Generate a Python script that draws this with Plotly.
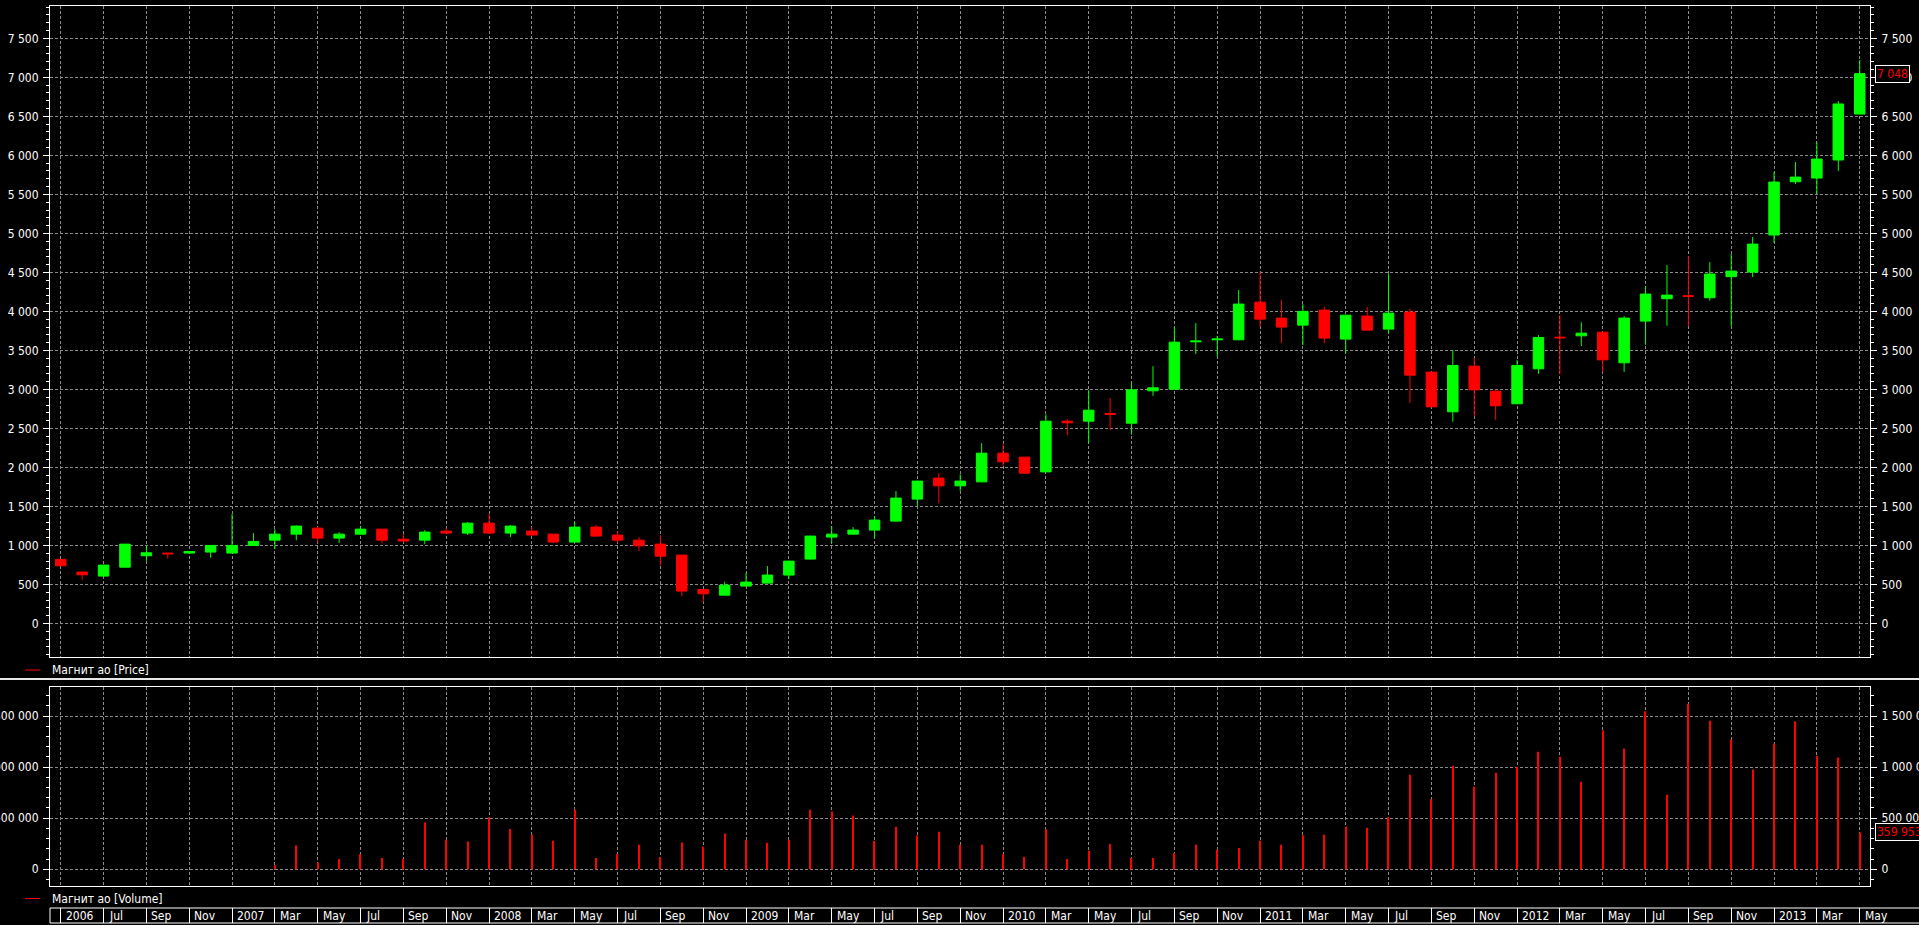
import plotly.graph_objects as go

# ---- data (monthly, May 2006 .. May 2013) ----
month_index = list(range(85))

open_ = [821, 658, 607, 722, 868, 902, 902, 915, 902, 1000,
         1068, 1145, 1222, 1094, 1145, 1209, 1081, 1068, 1184, 1158,
         1286, 1158, 1184, 1145, 1043, 1235, 1133, 1068, 1017, 876,
         436, 363, 479, 517, 620, 825, 1107, 1145, 1197, 1312,
         1594, 1863, 1764, 1815, 2183, 2132, 1943, 2593, 2593, 2690,
         2567, 2982, 3003, 3610, 3636, 3636, 4119, 3914, 3824, 4017,
         3645, 3940, 3773, 3991, 3222, 2713, 3298, 2977, 2816, 3264,
         3670, 3687, 3734, 3341, 3876, 4163, 4200, 4175, 4445, 4504,
         4979, 5662, 5709, 5941, 6530]
high = [825, 662, 750, 1020, 1000, 905, 926, 1002, 1402, 1158,
        1209, 1255, 1239, 1171, 1252, 1212, 1145, 1197, 1222, 1299,
        1402, 1261, 1235, 1148, 1299, 1261, 1184, 1107, 1133, 880,
        440, 534, 650, 735, 805, 1125, 1248, 1235, 1376, 1697,
        1830, 1927, 1910, 2311, 2298, 2135, 2679, 2618, 2990, 2888,
        3089, 3298, 3803, 3850, 3684, 4274, 4508, 4145, 4094, 4056,
        3955, 4056, 4478, 4038, 3225, 3504, 3405, 2999, 3375, 3696,
        3952, 3862, 3740, 3940, 4325, 4594, 4709, 4633, 4735, 4953,
        5786, 5914, 6171, 6696, 7222]
low = [735, 560, 603, 718, 803, 829, 899, 842, 899, 996,
       953, 1066, 1038, 1030, 1142, 1026, 1052, 1017, 1155, 1133,
       1155, 1107, 1130, 1030, 1040, 1115, 1030, 927, 744, 350,
       274, 360, 475, 515, 568, 820, 1030, 1140, 1094, 1305,
       1504, 1542, 1700, 1810, 2020, 1918, 1940, 2413, 2311, 2478,
       2422, 2918, 3000, 3452, 3422, 3630, 3807, 3593, 3567, 3593,
       3465, 3755, 3722, 2824, 2775, 2585, 2658, 2611, 2810, 3200,
       3196, 3555, 3225, 3225, 3572, 3815, 3815, 4137, 3808, 4440,
       4876, 5632, 5504, 5799, 6525]
close = [739, 624, 748, 1017, 906, 893, 923, 1000, 1000, 1051,
         1145, 1248, 1094, 1145, 1209, 1068, 1056, 1171, 1158, 1286,
         1158, 1248, 1133, 1043, 1235, 1120, 1068, 996, 863, 415,
         380, 491, 530, 620, 799, 1120, 1145, 1197, 1325, 1607,
         1825, 1764, 1825, 2183, 2072, 1927, 2593, 2572, 2734, 2680,
         2995, 3021, 3606, 3620, 3646, 4094, 3901, 3799, 4000, 3658,
         3952, 3760, 3978, 3183, 2777, 3307, 2995, 2790, 3307, 3666,
         3662, 3721, 3379, 3914, 4222, 4209, 4194, 4479, 4517, 4863,
         5658, 5722, 5953, 6659, 7048]
volume = [None, None, None, None, None, None, None, None, None, None,
          40000, 232000, 65000, 101000, 147000, 111000, 101000, 458000, 288000, 271000,
          510000, 395000, 337000, 278000, 585000, 111000, 150000, 239000, 121000, 261000,
          219000, 350000, 288000, 258000, 288000, 582000, 565000, 526000, 278000, 415000,
          330000, 366000, 239000, 239000, 147000, 121000, 392000, 101000, 180000, 248000,
          111000, 111000, 160000, 239000, 193000, 209000, 278000, 239000, 333000, 337000,
          415000, 405000, 510000, 925000, 686000, 1013000, 807000, 944000, 1000000, 1150000,
          1101000, 856000, 1359000, 1183000, 1546000, 729000, 1621000, 1454000, 1271000, 977000,
          1229000, 1448000, 1111000, 1095000, 359953]

tick_index = list(range(0, 85, 2))
tick_labels = ["2006", "Jul", "Sep", "Nov",
               "2007", "Mar", "May", "Jul", "Sep", "Nov",
               "2008", "Mar", "May", "Jul", "Sep", "Nov",
               "2009", "Mar", "May", "Jul", "Sep", "Nov",
               "2010", "Mar", "May", "Jul", "Sep", "Nov",
               "2011", "Mar", "May", "Jul", "Sep", "Nov",
               "2012", "Mar", "May", "Jul", "Sep", "Nov",
               "2013", "Mar", "May"]

price_name = "Магнит ао [Price]"
volume_name = "Магнит ао [Volume]"
last_price = close[-1]
last_volume = volume[-1]

# ---- styling ----
FONT = "DejaVu Sans Condensed, Liberation Sans, Arial, sans-serif"
FSIZE = 12
GRID = "#8a8a8a"
GREEN = "#00ff00"
RED = "#ff0000"
X_RANGE = [-0.5, 84.48]
PRICE_RANGE = [-430, 7915]
VOL_RANGE = [-164000, 1784000]

W, H = 1919, 925
ML, MR, MT, MB = 50, 49, 6, 2
PW = W - ML - MR
PH = H - MT - MB


def py(ypix):
    return (H - MB - ypix) / PH


def px(xpix):
    return (xpix - ML) / PW


fig = go.Figure()

fig.add_trace(go.Candlestick(
    x=month_index, open=open_, high=high, low=low, close=close,
    xaxis="x", yaxis="y", name=price_name, showlegend=False,
    whiskerwidth=0,
    increasing=dict(line=dict(color=GREEN, width=1), fillcolor=GREEN),
    decreasing=dict(line=dict(color=RED, width=1), fillcolor=RED),
    hoverinfo="skip",
))
fig.add_trace(go.Scatter(x=[0], y=[0], xaxis="x", yaxis="y4", mode="markers",
                         marker=dict(opacity=0), showlegend=False, hoverinfo="skip"))
fig.add_trace(go.Bar(
    x=month_index, y=volume, xaxis="x2", yaxis="y2", width=0.055,
    marker=dict(color=RED, line=dict(width=0)), name=volume_name,
    showlegend=False, hoverinfo="skip",
))
fig.add_trace(go.Scatter(x=[0], y=[0], xaxis="x2", yaxis="y5", mode="markers",
                         marker=dict(opacity=0), showlegend=False, hoverinfo="skip"))
fig.add_trace(go.Scatter(x=tick_index, y=[0.5] * len(tick_index), xaxis="x3", yaxis="y3",
                         mode="markers", marker=dict(opacity=0), showlegend=False,
                         hoverinfo="skip"))

common_x = dict(range=X_RANGE, tickmode="array", tickvals=tick_index,
                showticklabels=False, ticks="", zeroline=False, automargin=False)
grid_x = dict(showgrid=True, gridcolor=GRID, griddash="3px,2px", gridwidth=1,
              showline=True, mirror=True, linecolor="white", linewidth=1)

price_dom = [py(657), 1.0]
vol_dom = [py(886), py(687)]
strip_dom = [0.0, py(908)]

tickfont = dict(family=FONT, size=FSIZE, color="white")


def yax(rng, dtick, minor_dtick, **kw):
    d = dict(range=rng, tick0=0, dtick=dtick, tickformat=",d", ticks="outside", ticklen=6,
             tickcolor="white", ticklabelstandoff=2, automargin=False, zeroline=False,
             minor=dict(dtick=minor_dtick, tick0=0, ticks="outside", ticklen=3,
                        tickcolor="white", showgrid=False),
             tickfont=tickfont)
    d.update(kw)
    return d


fig.update_layout(
    width=W, height=H,
    margin=dict(l=ML, r=MR, t=MT, b=MB, pad=0, autoexpand=False),
    paper_bgcolor="black", plot_bgcolor="black",
    separators=". ",
    font=dict(family=FONT, size=FSIZE, color="white"),
    showlegend=False,
    xaxis=dict(domain=[0, 1], anchor="y", rangeslider=dict(visible=False), **common_x, **grid_x),
    yaxis=yax(PRICE_RANGE, 500, 100, domain=price_dom, anchor="x", showgrid=True,
              gridcolor=GRID, griddash="3px,2px", showline=True, mirror=True,
              linecolor="white"),
    yaxis4=yax(PRICE_RANGE, 500, 100, overlaying="y", side="right", anchor="x",
               showgrid=False, showline=False),
    xaxis2=dict(domain=[0, 1], anchor="y2", **common_x, **grid_x),
    yaxis2=yax(VOL_RANGE, 500000, 100000, domain=vol_dom, anchor="x2", showgrid=True,
               gridcolor=GRID, griddash="3px,2px", showline=True, mirror=True,
               linecolor="white"),
    yaxis5=yax(VOL_RANGE, 500000, 100000, overlaying="y2", side="right", anchor="x2",
               showgrid=False, showline=False),
    xaxis3=dict(domain=[0, 1], anchor="y3", range=X_RANGE, tickmode="array", tickvals=tick_index,
                showticklabels=False, ticks="", zeroline=False, showgrid=True,
                gridcolor="white", gridwidth=1, showline=False, automargin=False),
    yaxis3=dict(domain=strip_dom, anchor="x3", range=[0, 1], showgrid=False, zeroline=False,
                showticklabels=False, ticks="", showline=False, automargin=False),
)

shapes = []
# date strip borders
for yy in (0, 1):
    shapes.append(dict(type="line", xref="paper", yref="y3 domain", x0=0, x1=px(W),
                       y0=yy, y1=yy, line=dict(color="white", width=1)))
shapes.append(dict(type="line", xref="paper", yref="y3 domain", x0=0, x1=0, y0=0, y1=1,
                   line=dict(color="white", width=1)))
# divider between panels
shapes.append(dict(type="line", xref="paper", yref="paper", x0=px(0), x1=px(W),
                   y0=py(679), y1=py(679), line=dict(color="#e6e6e6", width=2)))
# legend line samples
for ly in (670, 898.5):
    shapes.append(dict(type="line", xref="paper", yref="paper", x0=px(25), x1=px(40),
                       y0=py(ly), y1=py(ly), line=dict(color=RED, width=1)))

annotations = []
for xi, lab in zip(tick_index, tick_labels):
    annotations.append(dict(x=xi, xref="x3", y=0.5, yref="y3 domain", text=lab,
                            showarrow=False, xanchor="left", yanchor="middle", xshift=3,
                            font=dict(family=FONT, size=FSIZE, color="white")))
annotations.append(dict(x=0, xref="paper", y=py(670), yref="paper", text=price_name,
                        showarrow=False, xanchor="left", yanchor="middle", xshift=0,
                        font=dict(family=FONT, size=FSIZE, color="white")))
annotations.append(dict(x=0, xref="paper", y=py(898.5), yref="paper", text=volume_name,
                        showarrow=False, xanchor="left", yanchor="middle", xshift=0,
                        font=dict(family=FONT, size=FSIZE, color="white")))
annotations.append(dict(x=1, xref="paper", y=last_price, yref="y",
                        text=f"{last_price:,}".replace(",", " "),
                        showarrow=False, xanchor="left", yanchor="middle", xshift=5,
                        bgcolor="black", bordercolor="white", borderwidth=1, borderpad=1,
                        font=dict(family=FONT, size=FSIZE, color=RED)))
annotations.append(dict(x=1, xref="paper", y=last_volume, yref="y2",
                        text=f"{last_volume:,}".replace(",", " "),
                        showarrow=False, xanchor="left", yanchor="middle", xshift=5,
                        bgcolor="black", bordercolor="white", borderwidth=1, borderpad=1,
                        font=dict(family=FONT, size=FSIZE, color=RED)))

fig.update_layout(shapes=shapes, annotations=annotations)

fig.write_html("out.html", config=dict(displayModeBar=False),
               post_script="document.body.style.margin='0';document.body.style.background='black';")
